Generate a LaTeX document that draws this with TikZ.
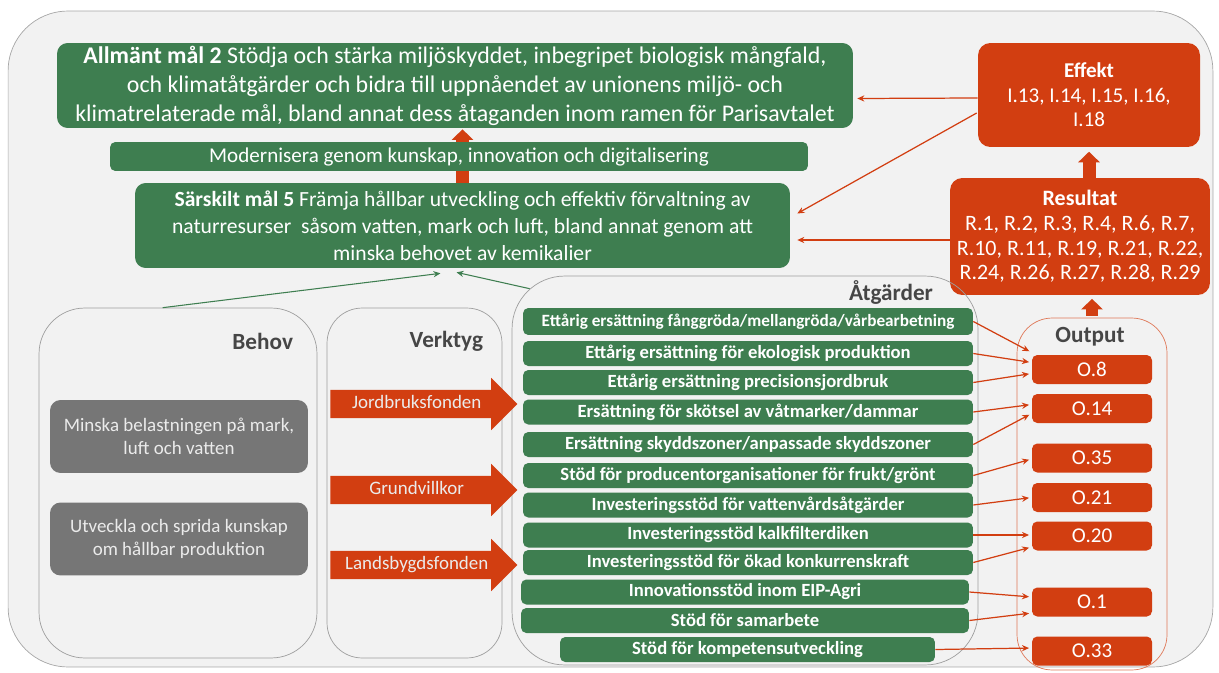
\documentclass[tikz,border=0pt]{standalone}
\usepackage{fontspec}
\setmainfont{Carlito}
\usepackage{xcolor}
\usepackage{tikz}
\usetikzlibrary{positioning,calc,shapes.arrows,arrows.meta}
\definecolor{MalGreen}{RGB}{62,126,80}
\definecolor{EffRed}{RGB}{210,62,17}
\definecolor{BgGray}{RGB}{242,242,242}
\definecolor{NeedGray}{RGB}{118,118,118}
\definecolor{LabelGray}{RGB}{70,70,70}
\tikzset{
    goalbox/.style={rectangle, rounded corners=6pt, fill=MalGreen, text=white, align=center, inner sep=0pt},
    redbox/.style={rectangle, rounded corners=7pt, fill=EffRed, text=white, align=center, inner sep=0pt},
    thinarrow/.style={draw=EffRed, line width=0.7pt, -{Stealth[length=4pt,width=3.5pt]}}
}

\begin{document}
\begin{tikzpicture}[
        x=0.02cm, y=-0.02cm,
        % Style for the grey group frames
        groupbox/.style={
            rectangle,
            draw=gray!75,
            rounded corners=20pt,
            thin
        },
        % Style for the group headings
        grouplabel/.style={
            font=\fontsize{13.2}{15}\selectfont\bfseries,
            text=LabelGray,
            inner sep=0pt
        },
        % Style for the needs
        needbox/.style={
            rectangle,
            rounded corners=6pt,
            fill=NeedGray,
            text=white!92!black,
            align=center,
            minimum width=5.16cm,
            minimum height=1.46cm,
            font=\fontsize{10.8}{13}\selectfont
        },
        % Style for the measures
        actbar/.style={
            rectangle,
            rounded corners=3pt,
            fill=MalGreen,
            text=white,
            inner sep=0pt,
            minimum height=0.5cm,
            font=\fontsize{10.6}{11}\selectfont\bfseries
        },
        % Style for the output codes
        outbox/.style={
            rectangle,
            rounded corners=3pt,
            fill=EffRed,
            text=white,
            minimum width=2.4cm,
            minimum height=0.58cm,
            font=\fontsize{12}{13}\selectfont
        },
        % Style for the fund arrows
        fundarrow/.style={
            single arrow,
            fill=EffRed,
            text=white!92!black,
            single arrow head extend=0.24cm,
            minimum height=3.74cm,
            minimum width=1.04cm,
            text height=7.5pt,
            text depth=2.3pt,
            inner xsep=2pt,
            inner ysep=3pt,
            font=\fontsize{10.8}{12}\selectfont
        },
        % Style for the thick up arrows
        bigup/.style={
            draw=EffRed,
            line width=7.4pt,
            -{Triangle[length=6pt,width=12pt]}
        },
        greenline/.style={
            draw=MalGreen,
            line width=0.6pt,
            -{Stealth[length=4pt,width=3.5pt]}
        }
    ]
        \useasboundingbox (0,0) rectangle (1219,672);

        % --- OUTER FRAME ---
        \node[rectangle, draw=gray!70, fill=BgGray, rounded corners=34pt,
              minimum width=24.1cm, minimum height=13.12cm] (frame) at (610.5,339) {};

        % --- GOALS ---
        \node[goalbox, minimum width=15.92cm, minimum height=1.7cm,
              font=\fontsize{13.6}{16.5}\selectfont] (allm) at (455,85.5)
            {\textbf{Allmänt mål 2} Stödja och stärka miljöskyddet, inbegripet biologisk mångfald,\\
             och klimatåtgärder och bidra till uppnåendet av unionens miljö- och\\
             klimatrelaterade mål, bland annat dess åtaganden inom ramen för Parisavtalet};
        \node[goalbox, minimum width=13.1cm, minimum height=1.7cm,
              font=\fontsize{12.3}{15.3}\selectfont] (sar) at (462.5,225.5)
            {\textbf{Särskilt mål 5} Främja hållbar utveckling och effektiv förvaltning av\\
             naturresurser~ såsom vatten, mark och luft, bland annat genom att\\
             minska behovet av kemikalier};
        % arrow behind the bar
        \draw[bigup] (sar.north) -- ($(sar.north |- allm.south)+(0,1)$);
        \node[goalbox, rounded corners=3pt, minimum width=13.96cm, minimum height=0.58cm,
              font=\fontsize{12}{13}\selectfont] (mod) at (459,156.5)
            {Modernisera genom kunskap, innovation och digitalisering};

        % --- EFFECT / RESULT ---
        \node[redbox, minimum width=4.44cm, minimum height=2.08cm,
              font=\fontsize{12}{14}\selectfont] (eff) at (1089,95)
            {\textbf{Effekt}\\I.13, I.14, I.15, I.16,\\I.18};
        \node[redbox, minimum width=5.2cm, minimum height=2.34cm,
              font=\fontsize{12.5}{14}\selectfont] (res) at (1080,236.5)
            {\textbf{Resultat}\\R.1, R.2, R.3, R.4, R.6, R.7,\\R.10, R.11, R.19, R.21, R.22,\\R.24, R.26, R.27, R.28, R.29};
        \draw[bigup, shorten >=2.5pt] (eff.south |- res.north) -- (eff.south);

        \draw[thinarrow] ($(eff.west)+(0,3)$) -- ($(allm.east)+(4,13)$);
        \draw[thinarrow] ($(eff.west)+(-1,18)$) -- ($(sar.east)+(7,-12)$);
        \draw[thinarrow] ($(res.west)+(0,3.5)$) -- ($(sar.east)+(7,14.5)$);

        % --- GROUPS ---
        \node[groupbox, minimum width=5.56cm, minimum height=7cm, rounded corners=26pt] (behov) at (178,483) {};
        \node[groupbox, minimum width=3.5cm, minimum height=7cm] (verk) at (414.5,483) {};
        \node[groupbox, minimum width=9.32cm, minimum height=7.78cm, rounded corners=30pt] (atg) at (745,470.5) {};
        \node[groupbox, draw=EffRed!70, minimum width=3cm, minimum height=7.04cm] (out) at (1092,494) {};

        \node[grouplabel, anchor=east] (lbehov) at ($(behov.north east)+(-24,34)$) {Behov};
        \node[grouplabel, anchor=east] (lverk) at ($(verk.north east)+(-19,34)$) {Verktyg};
        \node[grouplabel, anchor=east] (latg) at ($(atg.north east)+(-45,17)$) {Åtgärder};
        \node[grouplabel] (lout) at ($(out.north)+(-2,19)$) {Output};

        % green links up to the specific goal
        \coordinate (behtop) at ($(behov.north west)+(124,0)$);
        \coordinate (atgtop) at ($(atg.north west)+(18,13)$);
        \draw[greenline] (behtop) -- ($(sar.south)+(-22,5)$);
        \draw[greenline] (atgtop) -- ($(sar.south)+(-6,4)$);

        % --- NEEDS ---
        \node[needbox] (need1) at (179,436.5) {Minska belastningen på mark,\\luft och vatten};
        \node[needbox] (need2) at (179,539) {Utveckla och sprida kunskap\\om hållbar produktion};

        % --- TOOLS ---
        \node[fundarrow, anchor=tail] (fund1) at (330,404) {Jordbruksfonden};
        \node[fundarrow, anchor=tail] (fund2) at (330,490) {Grundvillkor};
        \node[fundarrow, anchor=tail] (fund3) at (330,565) {Landsbygdsfonden};

        % --- MEASURES ---
        \node[actbar, minimum width=9cm, minimum height=0.54cm,
              font=\fontsize{9.8}{11}\selectfont\bfseries] (a1) at (748,321.5)
            {Ettårig ersättning fånggröda/mellangröda/vårbearbetning};
        \foreach \i/\yc/\txt in {
                2/353.5/{Ettårig ersättning för ekologisk produktion},
                3/382.5/{Ettårig ersättning precisionsjordbruk},
                4/412/{Ersättning för skötsel av våtmarker/dammar},
                5/444.5/{Ersättning skyddszoner/anpassade skyddszoner},
                6/475.5/{Stöd för producentorganisationer för frukt/grönt},
                7/505/{Investeringsstöd för vattenvårdsåtgärder},
                8/535/{Investeringsstöd kalkfilterdiken},
                9/562.5/{Investeringsstöd för ökad konkurrenskraft}} {
            \node[actbar, minimum width=9cm] (a\i) at (748,\yc) {\txt};
        }
        \node[actbar, minimum width=8.96cm] (a10) at (745,592) {Innovationsstöd inom EIP-Agri};
        \node[actbar, minimum width=8.96cm] (a11) at (745,620.5) {Stöd för samarbete};
        \node[actbar, minimum width=7.5cm] (a12) at (747.5,649.5) {Stöd för kompetensutveckling};

        % --- OUTPUT ---
        \foreach \name/\yc/\txt in {o8/369.5/O.8, o14/408.5/O.14, o35/458/O.35, o21/497.5/O.21,
                                    o20/536/O.20, o1/602/O.1, o33/651/O.33} {
            \node[outbox] (\name) at (1092,\yc) {\txt};
        }
        \draw[bigup, line width=7pt, shorten <=1pt, shorten >=2pt] (out.north) -- (out.north |- res.south);

        % --- LINKS MEASURE -> OUTPUT ---
        \foreach \a/\o/\dy in {a1/o8/-17, a2/o8/-7, a3/o8/4, a4/o14/-4, a5/o14/5, a6/o35/1,
                               a7/o21/0, a8/o20/-1, a9/o20/11, a10/o1/-5, a11/o1/11, a12/o33/-3} {
            \draw[thinarrow, shorten >=1.5pt] (\a.east) -- ($(\o.west)+(0,\dy)$);
        }

    \end{tikzpicture}
\end{document}
